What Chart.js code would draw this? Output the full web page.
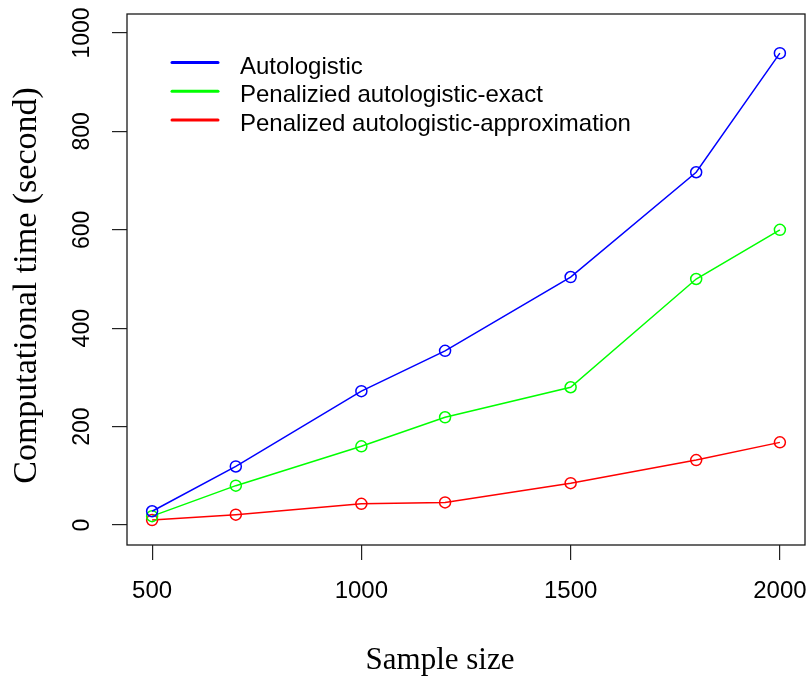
<!DOCTYPE html>
<html>
<head>
<meta charset="utf-8">
<script src="https://cdn.jsdelivr.net/npm/chart.js@4/dist/chart.umd.min.js"></script>
<style>
html, body { margin: 0; padding: 0; background: #fff; }
</style>
</head>
<body>
<canvas id="timeChart" width="812" height="679"></canvas>
<script>
// values
const sampleSizes = [500, 700, 1000, 1200, 1500, 1800, 2000];
const autologistic = [28, 119, 272, 354, 504, 717, 959];
const penalizedExact = [18, 80, 160, 219, 280, 500, 600];
const penalizedApprox = [10, 21, 43, 46, 85, 132, 168];

const xTicks = [500, 1000, 1500, 2000];
const yTicks = [0, 200, 400, 600, 800, 1000];

const seriesNames = ['Autologistic', 'Penalizied autologistic-exact', 'Penalized autologistic-approximation'];
const seriesColors = ['#0000ff', '#00ff00', '#ff0000'];

const xTitle = 'Sample size';
const yTitle = 'Computational time (second)';

const sans = '"Liberation Sans", Arial, sans-serif';
const serif = '"Liberation Serif", "Times New Roman", serif';

function toPoints(values) {
    return sampleSizes.map((x, i) => ({ x: x, y: values[i] }));
}

// draws the R-style frame, tick labels, titles and legend
const baseGraphics = {
    id: 'baseGraphics',
    afterDraw(chart) {
        const ctx = chart.ctx;
        const area = chart.chartArea;
        const xs = chart.scales.x;
        const ys = chart.scales.y;

        ctx.save();
        ctx.strokeStyle = '#1a1a1a';
        ctx.lineWidth = 1.3;
        ctx.strokeRect(area.left, area.top, area.right - area.left, area.bottom - area.top);

        ctx.fillStyle = '#000';
        ctx.textAlign = 'center';
        ctx.textBaseline = 'middle';

        // x tick labels
        ctx.font = '24px ' + sans;
        xTicks.forEach(v => {
            ctx.fillText(String(v), xs.getPixelForValue(v), area.bottom + 46);
        });

        // y tick labels, rotated like R's default
        ctx.font = '23px ' + sans;
        yTicks.forEach(v => {
            ctx.save();
            ctx.translate(area.left - 44, ys.getPixelForValue(v));
            ctx.rotate(-Math.PI / 2);
            ctx.fillText(String(v), 0, 0);
            ctx.restore();
        });

        // axis titles
        ctx.textBaseline = 'alphabetic';
        ctx.font = '31px ' + serif;
        ctx.fillText(xTitle, 440, 669);

        ctx.save();
        ctx.font = '34px ' + serif;
        ctx.translate(36, (area.top + area.bottom) / 2 + 6);
        ctx.rotate(-Math.PI / 2);
        ctx.fillText(yTitle, 0, 0);
        ctx.restore();

        // legend
        ctx.textAlign = 'left';
        ctx.font = '24px ' + sans;
        chart.data.datasets.forEach((ds, i) => {
            const rowY = area.top + 48.5 + i * 28.7;
            ctx.strokeStyle = ds.borderColor;
            ctx.lineWidth = 3;
            ctx.lineCap = 'round';
            ctx.beginPath();
            ctx.moveTo(area.left + 45, rowY);
            ctx.lineTo(area.left + 91, rowY);
            ctx.stroke();
            ctx.fillStyle = '#000';
            ctx.fillText(ds.label, area.left + 113, rowY + 11);
        });
        ctx.restore();
    }
};

const seriesValues = [autologistic, penalizedExact, penalizedApprox];

new Chart(document.getElementById('timeChart').getContext('2d'), {
    type: 'line',
    data: {
        datasets: seriesValues.map((vals, i) => ({
            label: seriesNames[i],
            data: toPoints(vals),
            borderColor: seriesColors[i],
            backgroundColor: 'transparent',
            borderWidth: 1.5,
            tension: 0,
            pointStyle: 'circle',
            pointRadius: 5.5,
            pointBorderWidth: 1.5,
            pointBackgroundColor: 'transparent',
            pointBorderColor: seriesColors[i]
        }))
    },
    options: {
        responsive: false,
        animation: false,
        devicePixelRatio: 1,
        layout: { padding: { top: 14, right: 5, left: 0, bottom: 0 } },
        plugins: {
            legend: { display: false },
            tooltip: { enabled: false }
        },
        scales: {
            x: {
                type: 'linear',
                min: 440,
                max: 2060,
                afterBuildTicks: s => { s.ticks = xTicks.map(v => ({ value: v })); },
                afterFit: s => { s.height = 134; },
                grid: { display: true, drawOnChartArea: false, drawTicks: true, tickLength: 15, color: '#222', lineWidth: 1.2 },
                border: { display: false },
                ticks: { display: false }
            },
            y: {
                type: 'linear',
                min: -40.6,
                max: 1038.6,
                afterBuildTicks: s => { s.ticks = yTicks.map(v => ({ value: v })); },
                afterFit: s => { s.width = 127; },
                grid: { display: true, drawOnChartArea: false, drawTicks: true, tickLength: 15, color: '#222', lineWidth: 1.2 },
                border: { display: false },
                ticks: { display: false }
            }
        }
    },
    plugins: [baseGraphics]
});
</script>
</body>
</html>
